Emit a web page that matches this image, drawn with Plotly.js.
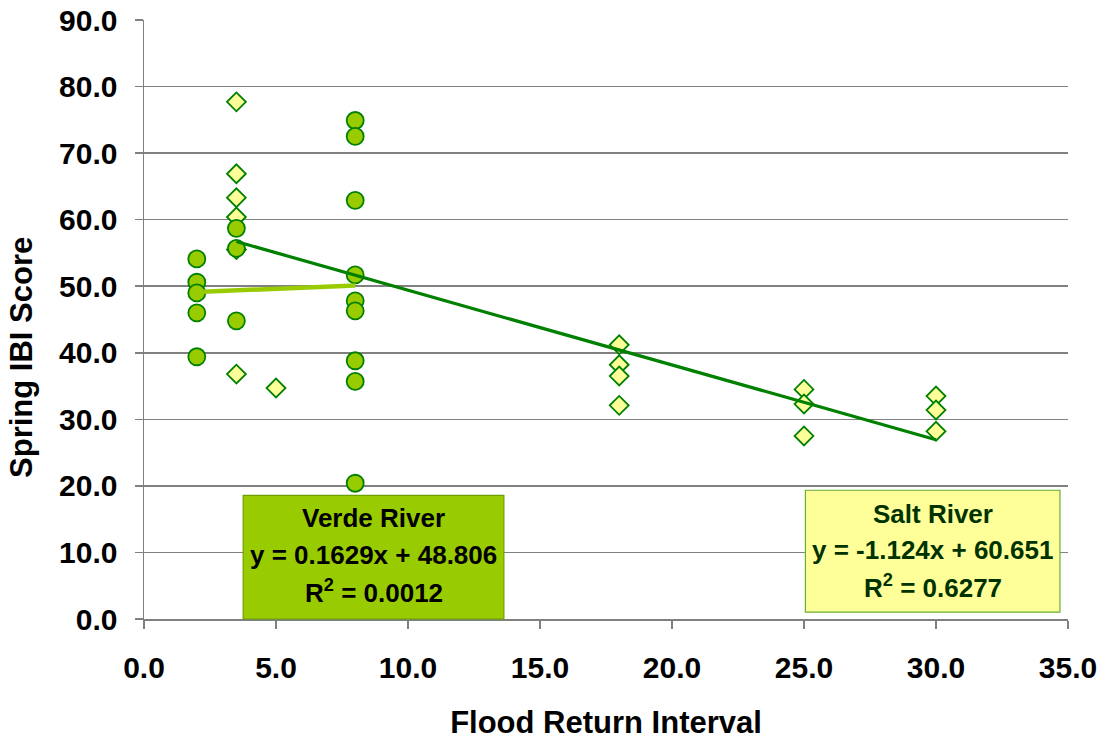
<!DOCTYPE html>
<html>
<head>
<meta charset="utf-8">
<script src="https://cdn.plot.ly/plotly-3.0.1.min.js"></script>
<style>
  html, body { margin: 0; padding: 0; background: #ffffff; }
  #chart { width: 1105px; height: 740px; }
</style>
</head>
<body>
<div id="chart"></div>
<script>
// Salt River sites: flood return interval (years) and spring IBI score
const saltInterval = [3.5, 3.5, 3.5, 3.5, 3.5, 3.5, 5, 18, 18, 18, 18, 25, 25, 25, 30, 30, 30];
const saltScore    = [77.7, 66.9, 63.3, 60.4, 55.5, 36.8, 34.7, 41.2, 38.2, 36.5, 32.1, 34.5, 32.3, 27.5, 33.5, 31.4, 28.2];

// Verde River sites
const verdeInterval = [2, 2, 2, 2, 2, 3.5, 3.5, 3.5, 8, 8, 8, 8, 8, 8, 8, 8, 8];
const verdeScore    = [54.1, 50.6, 49.0, 46.0, 39.4, 58.7, 55.7, 44.8, 74.9, 72.5, 62.9, 51.7, 47.8, 46.3, 38.8, 35.7, 20.4];

// Linear trend fits: [slope, intercept, R squared], drawn over the fitted x span
const saltFit  = [-1.124, 60.651, 0.6277];
const verdeFit = [0.1629, 48.806, 0.0012];
const saltSpan  = [3.5, 30];
const verdeSpan = [2, 8];

// Axis tick values
const xTicks = [0, 5, 10, 15, 20, 25, 30, 35];
const yTicks = [0, 10, 20, 30, 40, 50, 60, 70, 80, 90];

const fmt = v => v.toFixed(1);
const line = (fit, span) => span.map(x => fit[0] * x + fit[1]);
const signed = v => (v < 0 ? '-' : '') + Math.abs(v);

const FONT = 'Liberation Sans, Arial, sans-serif';
const DARK = '#008000';

const traces = [
  {
    x: saltInterval, y: saltScore, type: 'scatter', mode: 'markers', name: 'Salt River',
    marker: { symbol: 'diamond', size: 14.5, color: '#FFFF99', line: { color: DARK, width: 1.8 } },
    hoverinfo: 'x+y'
  },
  {
    x: verdeInterval, y: verdeScore, type: 'scatter', mode: 'markers', name: 'Verde River',
    marker: { symbol: 'circle', size: 17, color: '#99CC00', line: { color: DARK, width: 1.8 } },
    hoverinfo: 'x+y'
  },
  {
    x: saltSpan, y: line(saltFit, saltSpan), type: 'scatter', mode: 'lines',
    line: { color: DARK, width: 3.2 }, hoverinfo: 'skip'
  },
  {
    x: verdeSpan, y: line(verdeFit, verdeSpan), type: 'scatter', mode: 'lines',
    line: { color: '#99CC00', width: 4.5 }, hoverinfo: 'skip'
  }
];

function eqText(fit) {
  return 'y = ' + signed(fit[0]) + 'x + ' + fit[1];
}

function boxLines(cx, ys, lines, color) {
  return lines.map((t, i) => ({
    xref: 'paper', yref: 'paper', x: cx, y: ys[i],
    xanchor: 'center', yanchor: 'middle', showarrow: false,
    text: t,
    font: { family: FONT, size: 26, color: color, weight: 'bold' }
  }));
}

const annotations = [].concat(
  boxLines(0.2484, [0.168, 0.107, 0.046],
    ['Verde River', eqText(verdeFit), 'R<sup>2</sup> = ' + verdeFit[2].toFixed(4)], '#000000'),
  boxLines(0.8536, [0.175, 0.115, 0.054],
    ['Salt River', eqText(saltFit), 'R<sup>2</sup> = ' + saltFit[2].toFixed(4)], '#003300'),
  [{
    // vertical axis title, set a little below the plot's middle
    xref: 'paper', yref: 'paper', x: -0.1326, y: 0.4366,
    xanchor: 'center', yanchor: 'middle', showarrow: false, textangle: -90,
    text: 'Spring IBI Score',
    font: { family: FONT, size: 31, color: '#000000', weight: 'bold' }
  }]
);

const layout = {
  width: 1105, height: 740,
  margin: { l: 144, r: 37, t: 20, b: 121 },
  paper_bgcolor: '#ffffff', plot_bgcolor: '#ffffff',
  showlegend: false,
  font: { family: FONT, size: 30, color: '#000000', weight: 'bold' },
  xaxis: {
    range: [0, 35], tickvals: xTicks, ticktext: xTicks.map(fmt),
    showgrid: false, zeroline: false,
    showline: true, linecolor: '#808080', linewidth: 1.5,
    ticks: 'outside', ticklen: 8, tickcolor: '#808080', tickwidth: 1.5,
    ticklabelstandoff: 13,
    tickfont: { family: FONT, size: 30, color: '#000000', weight: 'bold' },
    title: { text: 'Flood Return Interval', standoff: 33,
             font: { family: FONT, size: 31, color: '#000000', weight: 'bold' } },
    automargin: false
  },
  yaxis: {
    range: [0, 90], tickvals: yTicks, ticktext: yTicks.map(fmt),
    showgrid: true, gridcolor: '#808080', gridwidth: 1.5, zeroline: false,
    showline: true, linecolor: '#808080', linewidth: 1.5,
    ticks: 'outside', ticklen: 8, tickcolor: '#808080', tickwidth: 1.5,
    ticklabelstandoff: 11,
    tickfont: { family: FONT, size: 30, color: '#000000', weight: 'bold' },
    automargin: false
  },
  shapes: [
    { type: 'rect', xref: 'paper', yref: 'paper', layer: 'above',
      x0: 0.1073, x1: 0.3895, y0: 0.0, y1: 0.2065,
      fillcolor: '#99CC00', line: { color: '#6FA000', width: 1.2 } },
    { type: 'rect', xref: 'paper', yref: 'paper', layer: 'above',
      x0: 0.7158, x1: 0.9913, y0: 0.0114, y1: 0.2149,
      fillcolor: '#FFFF99', line: { color: '#66B032', width: 1.2 } }
  ],
  annotations: annotations
};

Plotly.newPlot('chart', traces, layout, { displayModeBar: false, staticPlot: true });
</script>
</body>
</html>
